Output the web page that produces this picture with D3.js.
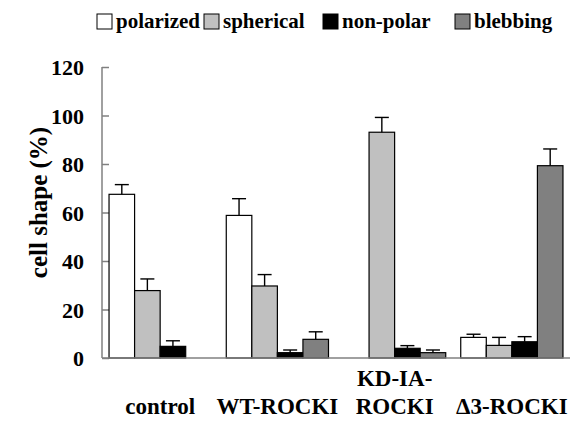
<!DOCTYPE html>
<html>
<head>
<meta charset="utf-8">
<script src="https://cdn.jsdelivr.net/npm/d3@7"></script>
</head>
<body style="margin:0">
<svg width="577" height="430"></svg>
<script>
const groups = ['control', 'WT-ROCKI', 'KD-IA-ROCKI', '\u03943-ROCKI'];
const groupLabels = [['control'], ['WT-ROCKI'], ['KD-IA-', 'ROCKI'], ['\u03943-ROCKI']];
const series = ['polarized', 'spherical', 'non-polar', 'blebbing'];
const colors = ['#ffffff', '#c0c0c0', '#000000', '#808080'];
// values per series, in group order
const values = [
    [67.5, 58.8, 0, 8.5],
    [27.8, 29.7, 93.1, 5.2],
    [4.8, 2.2, 4.0, 6.7],
    [0, 7.7, 2.2, 79.3]
];
const errors = [
    [4.0, 6.9, 0, 1.3],
    [4.8, 4.7, 6.1, 3.3],
    [2.3, 1.1, 1.1, 2.1],
    [0, 3.1, 1.1, 6.9]
];
const yTicks = [0, 20, 40, 60, 80, 100, 120];

let svg = d3.select('svg');
let axisColor = '#808080';
// legend box offsets (layout only)
let legendX = [97, 204, 323, 455];

// set the font on every text element itself
function serif(sel, size) {
    return sel.style('font-family', '"Liberation Serif"')
        .style('font-weight', 'bold')
        .style('font-size', size + 'px');
}

let x0 = d3.scaleBand().domain(groups).range([102, 570])
    .paddingInner(0.128).paddingOuter(0.06);
let x1 = d3.scaleBand().domain(series).range([0, x0.bandwidth()]);
let y = d3.scaleLinear().domain([0, 120]).range([358, 67]);

// y axis, ticks point inward
let yAxis = svg.append('g')
    .attr('transform', 'translate(102,0)')
    .call(d3.axisRight(y).tickValues(yTicks).tickSize(7).tickFormat(''))
    .attr('font-family', null)
    .attr('font-size', null);
yAxis.select('.domain').attr('stroke', axisColor).attr('stroke-width', 1.5)
    .attr('d', `M0,${y(120)}V${y(0)}`);
yAxis.selectAll('.tick line').attr('stroke', axisColor).attr('stroke-width', 1.5);
yAxis.selectAll('.tick text').remove();

svg.selectAll('text.ytick')
    .data(yTicks)
    .enter()
    .append('text')
    .attr('class', 'ytick')
    .attr('x', 84)
    .attr('y', d => y(d))
    .attr('dy', '0.38em')
    .attr('text-anchor', 'end')
    .call(serif, 22)
    .text(d => d);

svg.append('text')
    .attr('transform', `translate(47,${(y(0) + y(120)) / 2 - 10}) rotate(-90)`)
    .attr('text-anchor', 'middle')
    .call(serif, 25)
    .text('cell shape (%)');

// bars
let barData = [];
series.forEach((s, si) => {
    groups.forEach((g, gi) => {
        barData.push({ s: s, si: si, g: g, v: values[si][gi], e: errors[si][gi] });
    });
});

let bars = svg.append('g').selectAll('g')
    .data(barData)
    .enter()
    .append('g')
    .attr('transform', d => `translate(${x0(d.g) + x1(d.s)},0)`);

bars.append('rect')
    .attr('x', 0)
    .attr('y', d => y(d.v))
    .attr('width', x1.bandwidth())
    .attr('height', d => y(0) - y(d.v))
    .attr('fill', d => colors[d.si])
    .attr('stroke', '#000')
    .attr('stroke-width', 1.2);

let errBars = bars.filter(d => d.e > 0);
errBars.append('line')
    .attr('x1', x1.bandwidth() / 2)
    .attr('x2', x1.bandwidth() / 2)
    .attr('y1', d => y(d.v))
    .attr('y2', d => y(d.v + d.e))
    .attr('stroke', '#000')
    .attr('stroke-width', 1.4);
errBars.append('line')
    .attr('x1', x1.bandwidth() / 2 - 7)
    .attr('x2', x1.bandwidth() / 2 + 7)
    .attr('y1', d => y(d.v + d.e))
    .attr('y2', d => y(d.v + d.e))
    .attr('stroke', '#000')
    .attr('stroke-width', 1.4);

// x axis baseline
svg.append('line')
    .attr('x1', 102).attr('x2', 570)
    .attr('y1', y(0)).attr('y2', y(0))
    .attr('stroke', axisColor)
    .attr('stroke-width', 1.5);

// group labels, one text per line
groups.forEach((g, gi) => {
    groupLabels[gi].forEach((line, li) => {
        svg.append('text')
            .attr('x', x0(g) + x0.bandwidth() / 2)
            .attr('y', groupLabels[gi].length > 1 ? 386 + li * 28 : 414)
            .attr('text-anchor', 'middle')
            .call(serif, 23)
            .text(line);
    });
});

// legend
let legend = svg.append('g').selectAll('g')
    .data(series)
    .enter()
    .append('g')
    .attr('transform', (d, i) => `translate(${legendX[i]},0)`);
legend.append('rect')
    .attr('y', 14)
    .attr('width', 15).attr('height', 15)
    .attr('fill', (d, i) => colors[i])
    .attr('stroke', '#000')
    .attr('stroke-width', 1);
legend.append('text')
    .attr('x', 19).attr('y', 28)
    .call(serif, 21)
    .text(d => d);
</script>
</body>
</html>
